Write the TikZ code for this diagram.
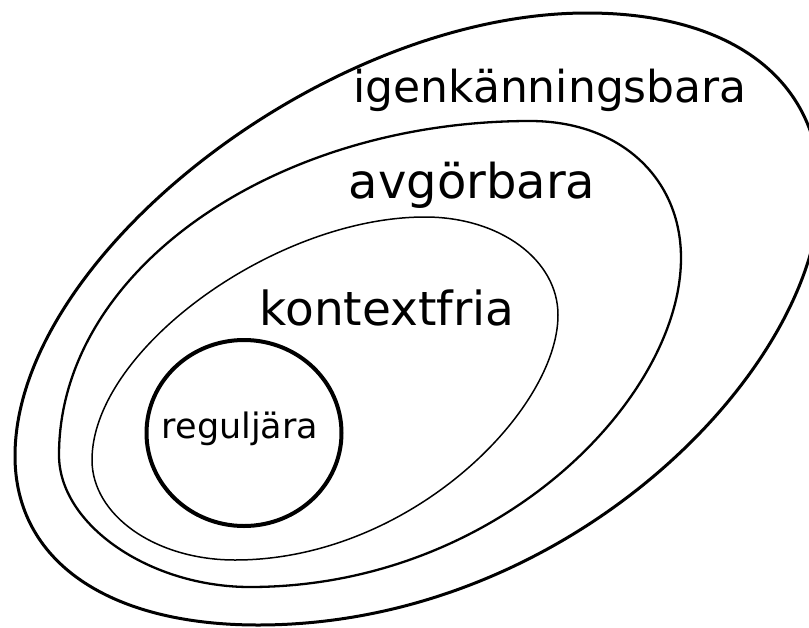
\documentclass[tikz,border=0pt]{standalone}
\usepackage{fontspec}
\setmainfont{DejaVu Sans}
\begin{document}
\begin{tikzpicture}[x=1pt,y=-1pt]
 \tikzset{classname/.style={anchor=base, inner sep=0pt}}
 \useasboundingbox (0,0) rectangle (809,627);
 \begin{scope}[black]
 % igenkänningsbara
 \draw[line width=3pt] (587,13) .. controls (732,13) and (820,80) .. (820,190)
   .. controls (820,368) and (570,625) .. (258,625)
   .. controls (108,625) and (15,561) .. (15,456)
   .. controls (15,256) and (327,13) .. cycle;
 % avgörbara
 \draw[line width=2.3pt] (530,121) .. controls (620,121) and (681,178) .. (681,258)
   .. controls (681,398) and (498,587) .. (250,587)
   .. controls (150,587) and (59,525) .. (59,455)
   .. controls (59,270) and (275,121) .. cycle;
 % kontextfria
 \draw[line width=1.5pt] (425,217) .. controls (500,217) and (558,260) .. (558,315)
   .. controls (558,410) and (410,560) .. (235,560)
   .. controls (155,560) and (92,515) .. (92,460)
   .. controls (92,350) and (275,217) .. cycle;
 % reguljära
 \draw[line width=4pt] (244,433) ellipse [x radius=97.5, y radius=93];
 \end{scope}
 \node[classname, font=\fontsize{44}{50}\selectfont] (igen) at (550,102) {igenkänningsbara};
 \node[classname, font=\fontsize{48}{54}\selectfont] (avg) at (472,198) {avgörbara};
 \node[classname, font=\fontsize{47}{54}\selectfont] (kfria) at (387,325) {kontextfria};
 \node[classname, font=\fontsize{35}{40}\selectfont] (reg) at (240,438) {reguljära};
\end{tikzpicture}
\end{document}
